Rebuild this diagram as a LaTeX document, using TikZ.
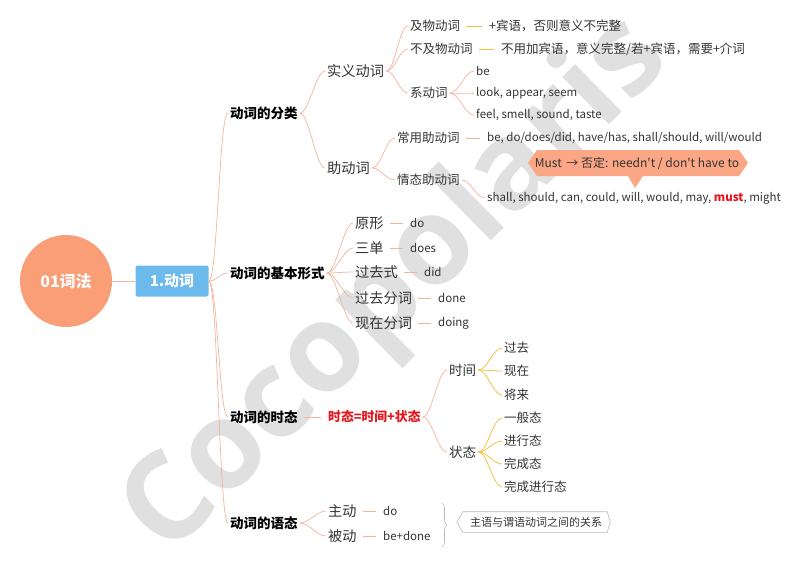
\documentclass[tikz,border=0pt]{standalone}
\usepackage{fontspec}
\setmainfont{Noto Sans CJK SC}
\newfontfamily\wmfont{Open Sans}
\usetikzlibrary{decorations.pathreplacing}
\definecolor{salm}{HTML}{FA9E78}
\definecolor{callc}{HTML}{FBA684}
\definecolor{lineS}{HTML}{F2B49C}
\definecolor{yel}{HTML}{F3C245}
\definecolor{blu}{HTML}{6CB9EC}
\definecolor{txt}{HTML}{333333}
\definecolor{wm}{HTML}{E0E0E0}
\definecolor{redt}{HTML}{E8141B}
\begin{document}
\begin{tikzpicture}[x=1pt,y=-1pt,
  t/.style={anchor=west, inner sep=2pt, text=txt, font=\fontsize{12.5}{14}\selectfont},
  tm/.style={t, font=\fontsize{13.5}{15}\selectfont},
  tb/.style={t, font=\fontsize{14.2}{16}\selectfont},
  tl/.style={anchor=west, inner sep=2pt, text=txt, font=\fontsize{11.5}{14}\selectfont},
  bt/.style={anchor=west, inner sep=2pt, text=black, font=\bfseries\fontsize{13.5}{15}\selectfont},
  sl/.style={draw=lineS, line width=0.7pt},
  yl/.style={draw=yel, line width=0.8pt},
  dsh/.style={shorten <=4pt, shorten >=5pt},
  br/.style={to path={.. controls ([xshift=9pt]\tikztostart) and ([xshift=-9pt]\tikztotarget) .. (\tikztotarget)}}
]
\useasboundingbox (0,0) rectangle (800,566);
% watermark
\node[rotate=44.5, text=wm, font=\wmfont\bfseries\fontsize{122}{122}\selectfont] (wmk) at (398,288) {Cocopolaris};

% root
\node[circle, fill=salm, minimum size=92pt, inner sep=0pt, text=white, font=\bfseries\fontsize{16}{18}\selectfont] (root) at (66,281) {01词法};
\node[fill=blu, rounded corners=2pt, minimum width=73pt, minimum height=31pt, inner sep=0pt, text=white, font=\bfseries\fontsize{15}{17}\selectfont] (verb) at (172,281) {1.动词};
\draw[sl] (root.east) -- (verb.west);

% level 1
\node[bt] (A) at (228,113) {动词的分类};
\node[bt] (B) at (228,273) {动词的基本形式};
\node[bt] (C) at (228,417) {动词的时态};
\node[bt] (D) at (228,523) {动词的语态};
\foreach \n in {A,B,C,D} \draw[sl] (verb.east) to[br] (\n.west);

% A
\node[tb] (A1) at (325,71) {实义动词};
\node[tb] (A2) at (325,168) {助动词};
\draw[sl] (A.east) to[br] (A1.west);
\draw[sl] (A.east) to[br] (A2.west);

\node[t] (A11) at (408,26) {及物动词};
\node[t] (A12) at (408,49) {不及物动词};
\node[t] (A13) at (408,93) {系动词};
\foreach \n in {A11,A12,A13} \draw[sl] (A1.east) to[br] (\n.west);
\node[t] (A11t) at (487,26) {+宾语，否则意义不完整};
\node[t] (A12t) at (499,49) {不用加宾语，意义完整/若+宾语，需要+介词};
\draw[yl,dsh] (A11.east) -- (A11t.west);
\draw[yl,dsh] (A12.east) -- (A12t.west);

\node[tl] (be) at (474,71) {be};
\node[tl] (look) at (474,93) {look, appear, seem};
\node[tl] (feel) at (474,115) {feel, smell, sound, taste};
\foreach \n in {be,look,feel} \draw[sl] (A13.east) to[br] (\n.west);

\node[t] (A21) at (395,138) {常用助动词};
\node[t] (A22) at (395,180) {情态助动词};
\draw[sl] (A2.east) to[br] (A21.west);
\draw[sl] (A2.east) to[br] (A22.west);
\node[tl] (A21t) at (485,138) {be, do/does/did, have/has, shall/should, will/would};
\node[tl] (A22t) at (485,198) {shall, should, can, could, will, would, may, {\bfseries\color{redt}must}, might};
\draw[sl,dsh] (A21.east) -- (A21t.west);
\draw[sl] (A22.east) to[br] (A22t.west);

% callout
\fill[callc] (528,163) -- (537,150) -- (739,150) -- (748,163) -- (739,176) -- (643,176) -- (635,188) -- (628,176) -- (537,176) -- cycle;
\node[anchor=center, inner sep=0pt, text=txt, font=\fontsize{12}{14}\selectfont] (must) at (637,163) {Must \,→ 否定: needn\textquotesingle t / don\textquotesingle t have to};

% B
\node[tb] (B1) at (353,223) {原形};
\node[tb] (B2) at (353,248) {三单};
\node[tb] (B3) at (353,272) {过去式};
\node[tb] (B4) at (353,298) {过去分词};
\node[tb] (B5) at (353,323) {现在分词};
\foreach \n in {B1,B2,B3,B4,B5} \draw[sl] (B.east) to[br] (\n.west);
\node[tl] (B1t) at (408,223) {do};
\node[tl] (B2t) at (408,248) {does};
\node[tl] (B3t) at (422,272) {did};
\node[tl] (B4t) at (436,298) {done};
\node[tl] (B5t) at (436,323) {doing};
\foreach \n in {B1,B2,B3,B4,B5} \draw[sl,dsh] (\n.east) -- (\n t.west);

% C
\node[bt, text=redt, font=\bfseries\fontsize{12.8}{14}\selectfont] (C1) at (326,417) {时态=时间+状态};
\draw[sl,dsh] (C.east) -- (C1.west);
\node[tm] (C11) at (447,370) {时间};
\node[tm] (C12) at (447,452) {状态};
\draw[sl] (C1.east) to[br] (C11.west);
\draw[sl] (C1.east) to[br] (C12.west);
\node[t] (T1) at (502,348) {过去};
\node[t] (T2) at (502,371) {现在};
\node[t] (T3) at (502,395) {将来};
\foreach \n in {T1,T2,T3} \draw[yl] (C11.east) to[br] (\n.west);
\node[t] (S1) at (502,418) {一般态};
\node[t] (S2) at (502,441) {进行态};
\node[t] (S3) at (502,464) {完成态};
\node[t] (S4) at (502,487) {完成进行态};
\foreach \n in {S1,S2,S3,S4} \draw[yl] (C12.east) to[br] (\n.west);

% D
\node[tb] (D1) at (326,511) {主动};
\node[tb] (D2) at (326,536) {被动};
\draw[sl] (D.east) to[br] (D1.west);
\draw[sl] (D.east) to[br] (D2.west);
\node[tl] (D1t) at (381,511) {do};
\node[tl] (D2t) at (381,536) {be+done};
\draw[sl,dsh] (D1.east) -- (D1t.west);
\draw[sl,dsh] (D2.east) -- (D2t.west);
\coordinate (brT) at (442,503);
\coordinate (brB) at (442,547);
\draw[gray!55, line width=0.6pt, decorate, decoration={brace, amplitude=5pt}] (brT) -- (brB);
\node[anchor=center, inner sep=0pt, text=txt, font=\fontsize{11}{13}\selectfont] (note) at (536,522) {主语与谓语动词之间的关系};
\draw[gray!55, line width=0.6pt] ([xshift=-13pt]note.west) -- ([xshift=-7pt,yshift=5pt]note.north west) -- ([xshift=5pt,yshift=5pt]note.north east) -- ([xshift=8pt]note.east) -- ([xshift=5pt,yshift=-5pt]note.south east) -- ([xshift=-7pt,yshift=-5pt]note.south west) -- cycle;
\end{tikzpicture}
\end{document}
